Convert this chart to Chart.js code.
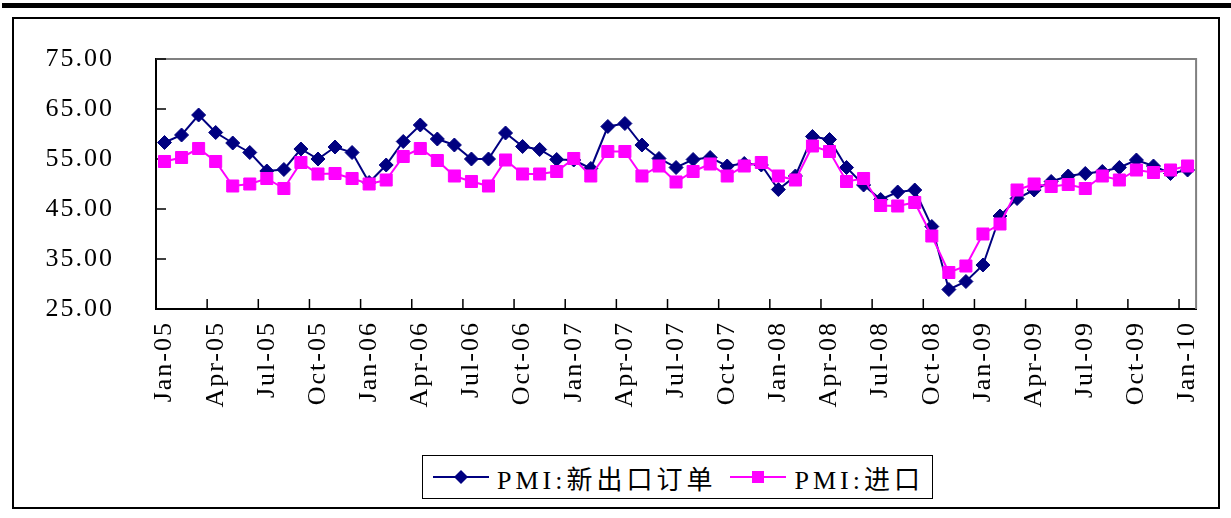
<!DOCTYPE html>
<html>
<head>
<meta charset="utf-8">
<script src="https://cdn.jsdelivr.net/npm/chart.js@4"></script>
<style>
    html, body { margin: 0; padding: 0; background: #fff; }
    body { width: 1231px; height: 518px; position: relative; overflow: hidden; }
    #top-bar { position: absolute; left: 2px; right: 0; top: 3px; height: 5px; background: #000; }
    #frame { position: absolute; left: 12px; top: 17px; width: 1204px; height: 488px; border: 2px solid #000; }
    #pmi-chart { position: absolute; left: 0; top: 0; }
    #legend {
        position: absolute; left: 422px; top: 455px; width: 511px; height: 44px;
        border: 1px solid #000; background: #fff; box-sizing: border-box;
        display: flex; align-items: center; padding-left: 10px;
        font-family: "Liberation Serif", "Noto Sans CJK SC", serif; font-size: 26px; color: #000;
    }
    #legend .item { display: flex; align-items: center; margin-right: 14px; }
    #legend svg { margin-right: 8px; }
    #legend .txt { letter-spacing: 4px; white-space: nowrap; }
</style>
</head>
<body>
<div id="top-bar"></div>
<div id="frame"></div>
<canvas id="pmi-chart" width="1231" height="518"></canvas>
<div id="legend"></div>
<script>
// tháng / năm -> nhãn trục x (Jan-05 ... Jan-10)
const months = ['Jan', 'Feb', 'Mar', 'Apr', 'May', 'Jun', 'Jul', 'Aug', 'Sep', 'Oct', 'Nov', 'Dec'];
const years = ['05', '06', '07', '08', '09', '10'];
const categories = [];
years.forEach(yy => months.forEach(m => categories.push(m + '-' + yy)));
categories.length = 61;

const seriesNames = ['PMI:新出口订单', 'PMI:进口'];

// PMI:新出口订单
const newExportOrders = [
    58.3, 59.8, 63.8, 60.3, 58.2, 56.3, 52.6, 52.9, 57.0, 55.0, 57.4, 56.3,
    50.3, 53.8, 58.5, 61.8, 59.0, 57.8, 55.0, 55.0, 60.2, 57.5, 56.9, 54.9,
    54.8, 53.1, 61.5, 62.1, 57.8, 55.1, 53.3, 54.9, 55.3, 53.6, 54.1, 53.8,
    48.9, 51.6, 59.5, 58.9, 53.3, 49.8, 46.9, 48.4, 48.8, 41.5, 28.9, 30.5,
    33.8, 43.6, 47.1, 48.8, 50.5, 51.6, 52.1, 52.5, 53.3, 54.8, 53.6, 52.1,
    52.8
];

// PMI:进口
const imports = [
    54.5, 55.3, 57.1, 54.5, 49.6, 50.0, 51.1, 49.1, 54.3, 52.0, 52.1, 51.1,
    50.0, 50.8, 55.5, 57.1, 54.7, 51.6, 50.5, 49.6, 54.8, 52.0, 52.0, 52.5,
    55.1, 51.6, 56.5, 56.5, 51.6, 53.6, 50.4, 52.5, 54.0, 51.6, 53.6, 54.3,
    51.6, 50.8, 57.6, 56.5, 50.5, 51.1, 45.7, 45.6, 46.3, 39.6, 32.3, 33.6,
    40.0, 42.0, 48.8, 50.0, 49.5, 49.9, 49.1, 51.6, 50.8, 52.8, 52.3, 52.8,
    53.6
];

const yTicks = [25, 35, 45, 55, 65, 75];

const NAVY = '#000080';
const PINK = '#FF00FF';
const FONT = 'Liberation Serif';

// vạch chia hướng vào trong + viền vùng vẽ
const innerTicks = {
    id: 'innerTicks',
    beforeDraw(chart) {
        chart.ctx.letterSpacing = '2px'; // chữ nhãn trục rộng hơn một chút
    },
    beforeDatasetsDraw(chart) {
        const { ctx, chartArea: a, scales: { x, y } } = chart;
        ctx.save();
        ctx.strokeStyle = '#808080';
        ctx.lineWidth = 2;
        ctx.beginPath();
        ctx.moveTo(a.left, a.top);
        ctx.lineTo(a.right, a.top);
        ctx.lineTo(a.right, a.bottom);
        ctx.stroke();

        ctx.strokeStyle = '#000';
        ctx.lineWidth = 1.5;
        ctx.beginPath();
        yTicks.forEach(v => {
            const py = y.getPixelForValue(v);
            ctx.moveTo(a.left, py);
            ctx.lineTo(a.left + 10, py);
        });
        for (let i = 3; i < categories.length; i += 3) {
            const px = (x.getPixelForValue(i - 1) + x.getPixelForValue(i)) / 2;
            ctx.moveTo(px, a.bottom);
            ctx.lineTo(px, a.bottom - 10);
        }
        ctx.stroke();
        ctx.restore();
    },
    afterDraw(chart) {
        chart.ctx.letterSpacing = '0px';
    }
};

const ctx = document.getElementById('pmi-chart').getContext('2d');
new Chart(ctx, {
    type: 'line',
    data: {
        labels: categories,
        datasets: [{
            label: seriesNames[0],
            data: newExportOrders,
            borderColor: NAVY,
            backgroundColor: NAVY,
            borderWidth: 2,
            pointStyle: 'rectRot',
            pointRadius: 7,
            pointBorderWidth: 1,
            pointBorderColor: NAVY,
            pointBackgroundColor: NAVY,
            tension: 0,
            order: 1
        }, {
            label: seriesNames[1],
            data: imports,
            borderColor: PINK,
            backgroundColor: PINK,
            borderWidth: 2,
            pointStyle: 'rect',
            pointRadius: 8.5,
            pointBorderWidth: 1,
            pointBorderColor: PINK,
            pointBackgroundColor: PINK,
            tension: 0,
            order: 0
        }]
    },
    options: {
        responsive: false,
        animation: false,
        devicePixelRatio: 1,
        layout: { padding: { top: 59, right: 28, left: 0, bottom: 0 } },
        plugins: {
            legend: { display: false },
            tooltip: { enabled: false }
        },
        scales: {
            x: {
                offset: true,
                grid: { drawOnChartArea: false, drawTicks: false, offset: true },
                border: { color: '#000', width: 2 },
                ticks: {
                    autoSkip: false,
                    maxRotation: 90,
                    minRotation: 90,
                    padding: 12,
                    color: '#000',
                    font: { family: FONT, size: 26 },
                    callback: function (value, index) {
                        return index % 3 === 0 ? categories[index] : '';
                    }
                },
                afterFit: function (scale) { scale.height = 209; }
            },
            y: {
                min: 25,
                max: 75,
                grid: { drawOnChartArea: false, drawTicks: false },
                border: { color: '#000', width: 2 },
                ticks: {
                    stepSize: 10,
                    padding: 42,
                    color: '#000',
                    font: { family: FONT, size: 26 },
                    callback: function (value) { return Number(value).toFixed(2); }
                },
                afterBuildTicks: function (scale) {
                    scale.ticks = yTicks.map(v => ({ value: v }));
                },
                afterFit: function (scale) { scale.width = 156; }
            }
        }
    },
    plugins: [innerTicks]
});

// chú giải HTML (đường + ký hiệu)
function legendKey(color, shape) {
    const mark = shape === 'diamond'
        ? `<polygon points="28,3 35,10 28,17 21,10" fill="${color}"/>`
        : `<rect x="22" y="4" width="12" height="12" fill="${color}"/>`;
    return `<svg width="56" height="20"><line x1="0" y1="10" x2="56" y2="10" stroke="${color}" stroke-width="2"/>${mark}</svg>`;
}

document.getElementById('legend').innerHTML =
    `<span class="item">${legendKey(NAVY, 'diamond')}<span class="txt">${seriesNames[0]}</span></span>` +
    `<span class="item">${legendKey(PINK, 'square')}<span class="txt">${seriesNames[1]}</span></span>`;
</script>
</body>
</html>
